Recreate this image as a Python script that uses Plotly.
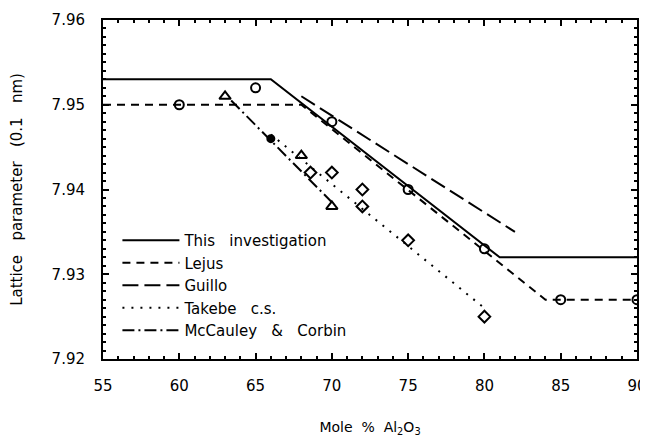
import plotly.graph_objects as go

# fitted lines
this_inv_x = [55, 66, 81, 90]
this_inv_y = [7.953, 7.953, 7.932, 7.932]

lejus_x = [55, 68, 84, 90]
lejus_y = [7.950, 7.950, 7.927, 7.927]

guillo_x = [68, 82]
guillo_y = [7.951, 7.935]

takebe_x = [66, 80]
takebe_y = [7.9465, 7.926]

mccauley_x = [63.4, 70]
mccauley_y = [7.9505, 7.9385]

# measured points
circle_x = [60, 65, 70, 75, 80, 85, 90]
circle_y = [7.950, 7.952, 7.948, 7.940, 7.933, 7.927, 7.927]

diamond_x = [68.6, 70, 72, 72, 75, 80]
diamond_y = [7.942, 7.942, 7.940, 7.938, 7.934, 7.925]

triangle_x = [63, 68, 70]
triangle_y = [7.951, 7.944, 7.938]

filled_x = [66]
filled_y = [7.946]

x_ticks = [55, 60, 65, 70, 75, 80, 85, 90]
y_ticks = [7.92, 7.93, 7.94, 7.95, 7.96]

font_family = "DejaVu Sans"
black = "black"
sp = "\u00a0\u00a0"
sp3 = "\u00a0\u00a0\u00a0"

fig = go.Figure()

lines = [
    ("This" + sp3 + "investigation", this_inv_x, this_inv_y, "solid"),
    ("Lejus", lejus_x, lejus_y, "8px,6px"),
    ("Guillo", guillo_x, guillo_y, "16px,6px"),
    ("Takebe" + sp3 + "c.s.", takebe_x, takebe_y, "2px,7px"),
    ("McCauley" + sp3 + "&" + sp3 + "Corbin", mccauley_x, mccauley_y, "12px,4px,2px,4px"),
]
for name, xs, ys, dash in lines:
    fig.add_trace(
        go.Scatter(
            x=xs,
            y=ys,
            name=name,
            mode="lines",
            line={"color": black, "width": 2, "dash": dash},
        )
    )

markers = [
    (circle_x, circle_y, "circle-open", 9),
    (diamond_x, diamond_y, "diamond-open", 9),
    (triangle_x, triangle_y, "triangle-up-open", 10),
    (filled_x, filled_y, "circle", 7),
]
for xs, ys, sym, size in markers:
    fig.add_trace(
        go.Scatter(
            x=xs,
            y=ys,
            mode="markers",
            showlegend=False,
            marker={
                "symbol": sym,
                "size": size,
                "color": black,
                "line": {"color": black, "width": 2},
            },
        )
    )

axis_style = dict(
    showgrid=False,
    zeroline=False,
    showline=True,
    linecolor=black,
    linewidth=2,
    mirror="allticks",
    ticks="inside",
    ticklen=6,
    tickwidth=1.5,
    tickcolor=black,
    ticklabeloverflow="allow",
    tickfont={"family": font_family, "size": 15, "color": black},
)

fig.update_xaxes(
    range=[55, 90],
    tickvals=x_ticks,
    ticktext=[str(v) for v in x_ticks],
    ticklabelstandoff=12,
    minor={"dtick": 1, "ticks": "inside", "ticklen": 3, "tickcolor": black},
    title={
        "text": "Mole" + sp + "%" + sp + "Al<sub>2</sub>O<sub>3</sub>",
        "font": {"family": font_family, "size": 14, "color": black},
        "standoff": 34,
    },
    **axis_style,
)
fig.update_yaxes(
    range=[7.92, 7.96],
    tickvals=y_ticks,
    ticktext=["%.2f" % v for v in y_ticks],
    ticklabelstandoff=13,
    minor={"dtick": 0.001, "ticks": "inside", "ticklen": 3, "tickcolor": black},
    title={
        "text": "Lattice" + sp3 + "parameter" + sp3 + "(0.1" + sp3 + "nm)",
        "font": {"family": font_family, "size": 15, "color": black},
        "standoff": 31,
    },
    **axis_style,
)

# the page body adds an 8px margin, so the figure is drawn smaller to fit
fig.update_layout(
    width=640,
    height=429,
    margin={"l": 95, "r": 11, "t": 12, "b": 78, "autoexpand": False},
    paper_bgcolor="white",
    plot_bgcolor="white",
    font={"family": font_family, "color": black},
    legend={
        "x": 0.027,
        "y": 0.398,
        "xanchor": "left",
        "yanchor": "top",
        "bgcolor": "rgba(0,0,0,0)",
        "font": {"family": font_family, "size": 15, "color": black},
        "tracegroupgap": 0,
        "itemwidth": 57,
    },
)

fig.write_html("out.html")
